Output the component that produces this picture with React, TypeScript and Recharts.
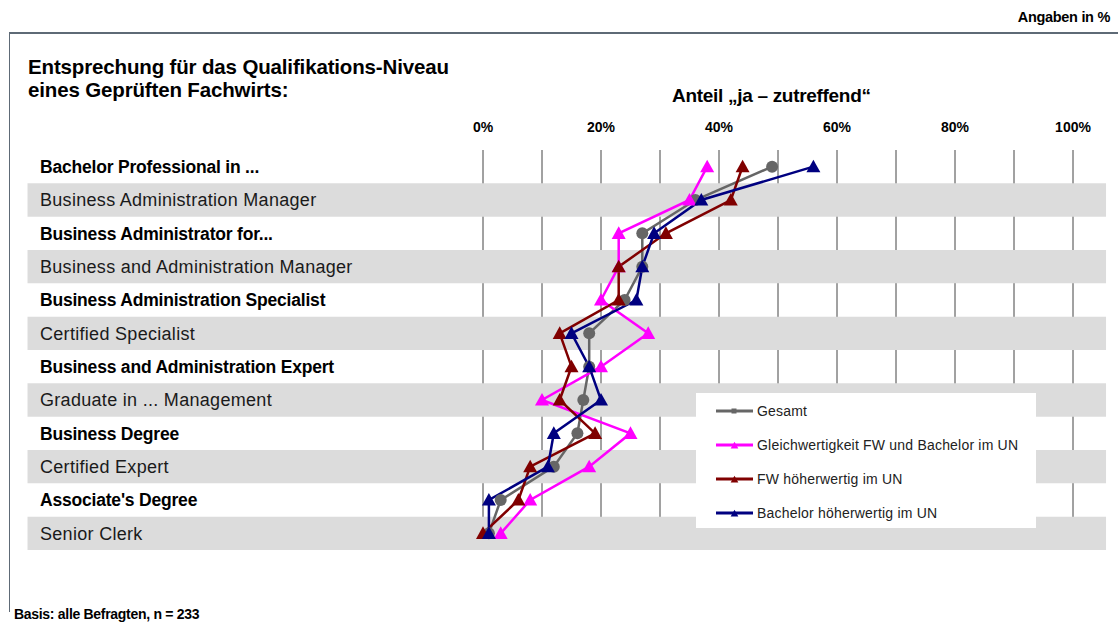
import { CartesianGrid, Legend, Line, LineChart, ReferenceArea, XAxis, YAxis } from 'recharts';

const categories = [
  'Bachelor Professional in ...',
  'Business Administration Manager',
  'Business Administrator for...',
  'Business and Administration Manager',
  'Business Administration Specialist',
  'Certified Specialist',
  'Business and Administration Expert',
  'Graduate in ... Management',
  'Business Degree',
  'Certified Expert',
  "Associate's Degree",
  'Senior Clerk',
];

const gesamt = [49, 36, 27, 27, 24, 18, 18, 17, 16, 12, 3, 1];
const gleichwertig = [38, 35, 23, 23, 20, 28, 20, 10, 25, 18, 8, 3];
const fwHoeher = [44, 42, 31, 23, 23, 13, 15, 13, 19, 8, 6, 0];
const bachelorHoeher = [56, 37, 29, 27, 26, 15, 18, 20, 12, 11, 1, 1];

const xTicks = [0, 10, 20, 30, 40, 50, 60, 70, 80, 90, 100];

const series = [
  { key: 'gesamt', name: 'Gesamt', color: '#666666', shape: 'circle' },
  { key: 'gleich', name: 'Gleichwertigkeit FW und Bachelor im UN', color: '#ff00ff', shape: 'triangle' },
  { key: 'fw', name: 'FW höherwertig im UN', color: '#800000', shape: 'triangle' },
  { key: 'bachelor', name: 'Bachelor höherwertig im UN', color: '#000080', shape: 'triangle' },
];

const data = categories.map((name, i) => ({
  name,
  gesamt: gesamt[i],
  gleich: gleichwertig[i],
  fw: fwHoeher[i],
  bachelor: bachelorHoeher[i],
}));

// gray stripes run past the plot, out to the label column
const BAND_FROM = -77.2;
const BAND_TO = 105.6;
const FONT = '"Liberation Sans", Arial, sans-serif';

function Marker({ cx, cy, fill, shape, size = 1 }: { cx?: number; cy?: number; fill: string; shape: string; size?: number }) {
  if (cx == null || cy == null) return null;
  if (shape === 'circle') return <circle cx={cx} cy={cy} r={6 * size} fill={fill} />;
  const w = 7 * size;
  return <polygon points={`${cx},${cy - w} ${cx - w},${cy + 0.8 * w} ${cx + w},${cy + 0.8 * w}`} fill={fill} />;
}

function CategoryTick({ y, payload, index }: any) {
  const bold = index % 2 === 0;
  return (
    <text
      x={40}
      y={y}
      dy="0.36em"
      textAnchor="start"
      fontFamily={FONT}
      fontSize={bold ? 17.5 : 18}
      fontWeight={bold ? 'bold' : 'normal'}
      letterSpacing={bold ? -0.2 : 0.3}
      fill={bold ? '#000' : '#1a1a1a'}
    >
      {payload.value}
    </text>
  );
}

function LegendBox({ payload }: any) {
  const shown = new Set((payload ?? []).map((e: any) => e.value));
  return (
    <div style={{ background: '#fff', width: 340, height: 135, paddingTop: 1, boxSizing: 'border-box', fontFamily: FONT }}>
      {series
        .filter((s) => shown.has(s.name))
        .map((s) => (
          <div key={s.key} style={{ display: 'flex', alignItems: 'center', height: 34, paddingLeft: 20 }}>
            <svg width={37} height={12} style={{ marginRight: 4 }}>
              <line x1={0} y1={6} x2={37} y2={6} stroke={s.color} strokeWidth={3} />
              {s.shape === 'circle' ? (
                <rect x={15.5} y={3.5} width={5} height={5} fill={s.color} />
              ) : (
                <Marker cx={18.5} cy={6.5} fill={s.color} shape="triangle" size={0.55} />
              )}
            </svg>
            <span style={{ fontSize: 14, color: '#222', letterSpacing: 0.2 }}>{s.name}</span>
          </div>
        ))}
    </div>
  );
}

export default function App() {
  return (
    <div style={{ position: 'absolute', left: 0, top: 0, width: 1118, height: 624, background: '#fff', fontFamily: FONT, overflow: 'hidden' }}>
      <div style={{ position: 'absolute', right: 8, top: 9, fontSize: 14.5, fontWeight: 'bold', letterSpacing: -0.3 }}>Angaben in %</div>
      <div style={{ position: 'absolute', left: 9, top: 32, width: 1120, height: 578, borderTop: '2px solid #5e6a76', borderLeft: '1px solid #5e6a76' }} />
      <div style={{ position: 'absolute', left: 28, top: 55, fontSize: 20.5, fontWeight: 'bold', lineHeight: '23px', letterSpacing: -0.15 }}>
        Entsprechung für das Qualifikations-Niveau
        <br />
        eines Geprüften Fachwirts:
      </div>
      <div style={{ position: 'absolute', left: 672, top: 85, fontSize: 19, fontWeight: 'bold', letterSpacing: -0.3 }}>
        Anteil „ja – zutreffend“
      </div>
      <div style={{ position: 'absolute', left: 14, top: 606, fontSize: 14, fontWeight: 'bold', letterSpacing: -0.3 }}>
        Basis: alle Befragten, n = 233
      </div>
      <LineChart
        width={1118}
        height={624}
        data={data}
        layout="vertical"
        margin={{ top: 120, right: 45, bottom: 74, left: 0 }}
      >
        {categories
          .filter((_, i) => i % 2 === 1)
          .map((c) => (
            <ReferenceArea
              key={c}
              y1={c}
              y2={c}
              x1={BAND_FROM}
              x2={BAND_TO}
              ifOverflow="visible"
              fill="#dcdcdc"
              fillOpacity={1}
              stroke="none"
            />
          ))}
        <CartesianGrid horizontal={false} stroke="#444" strokeWidth={1} />
        <XAxis
          type="number"
          orientation="top"
          domain={[0, 100]}
          ticks={xTicks}
          interval={0}
          height={30}
          axisLine={false}
          tickLine={false}
          tickSize={0}
          tickMargin={18}
          tickFormatter={(v: number) => (v % 20 === 0 ? `${v}%` : '')}
          tick={{ fill: '#000', fontSize: 14, fontWeight: 'bold', fontFamily: FONT }}
        />
        <YAxis
          type="category"
          dataKey="name"
          scale="band"
          width={483}
          interval={0}
          axisLine={false}
          tickLine={false}
          tick={<CategoryTick />}
        />
        <Legend
          layout="horizontal"
          verticalAlign="middle"
          align="center"
          content={<LegendBox />}
          wrapperStyle={{ left: 696, top: 393, width: 340, height: 135 }}
        />
        {series.map((s) => (
          <Line
            key={s.key}
            dataKey={s.key}
            name={s.name}
            stroke={s.color}
            strokeWidth={2.5}
            isAnimationActive={false}
            dot={(p: any) => <Marker key={`${s.key}-${p.index}`} cx={p.cx} cy={p.cy} fill={s.color} shape={s.shape} />}
            activeDot={false}
          />
        ))}
      </LineChart>
    </div>
  );
}
